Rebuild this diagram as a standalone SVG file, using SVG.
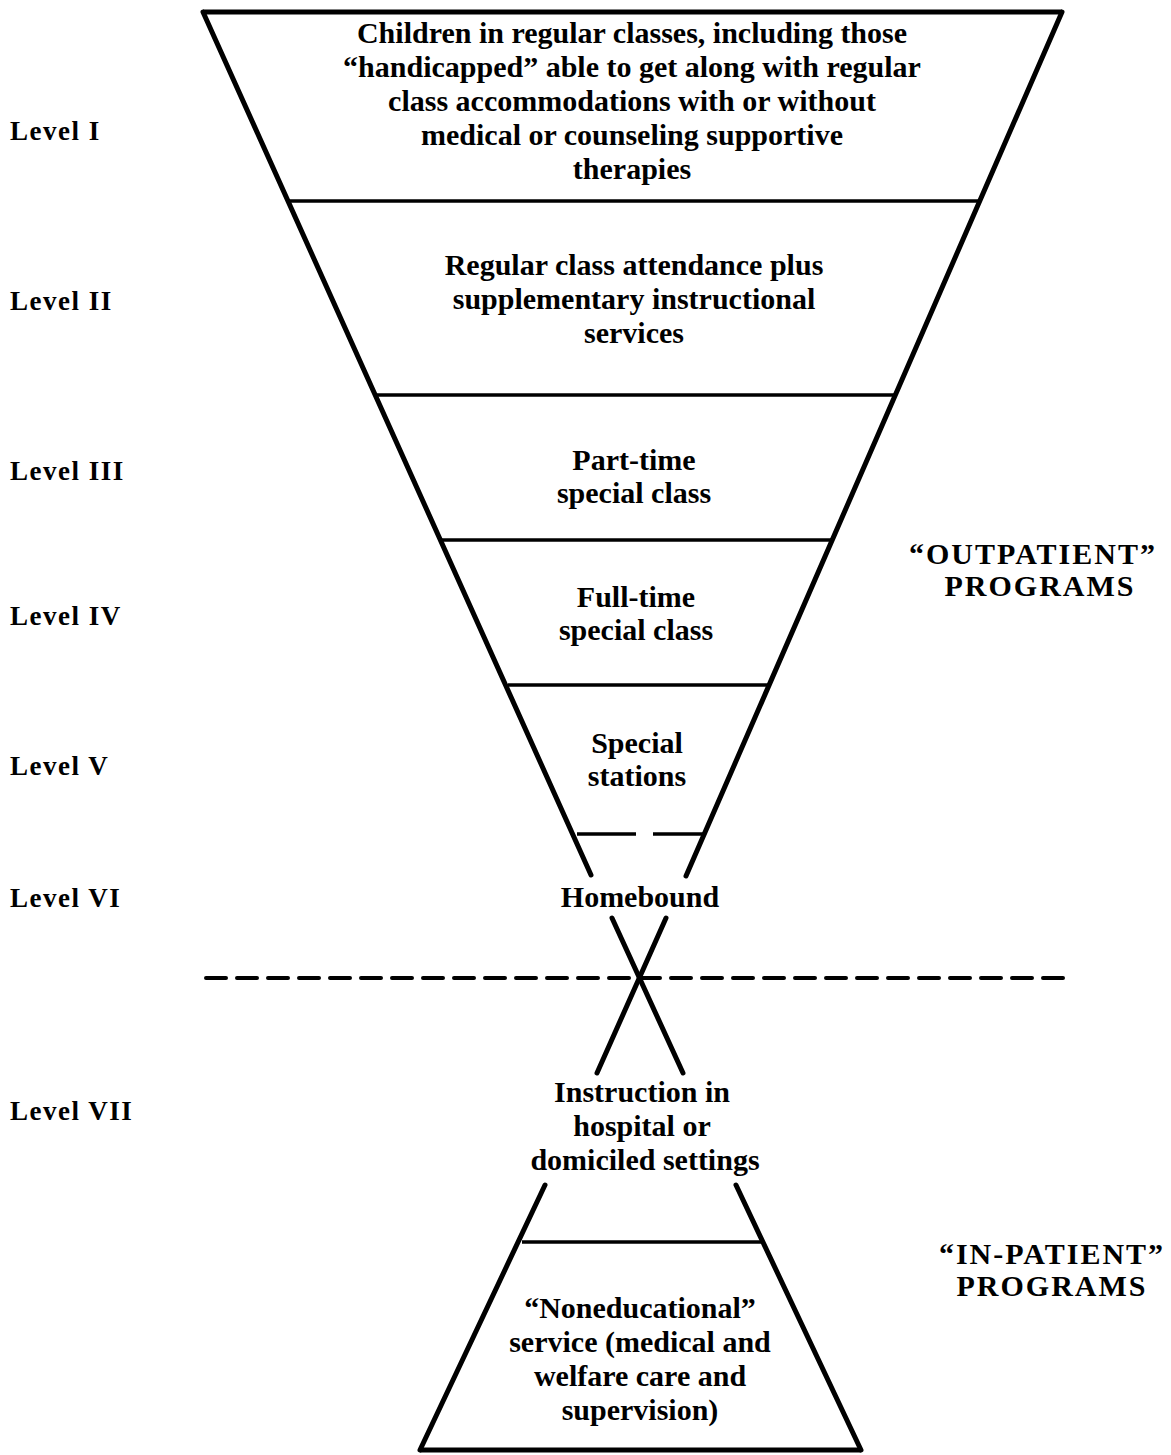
<svg xmlns="http://www.w3.org/2000/svg" width="1171" height="1455" viewBox="0 0 1171 1455">
<style>
.bg{fill:#fff}
.edge{stroke:#000;stroke-width:5;stroke-linecap:round;fill:none}
.rule{stroke:#000;stroke-width:3.5;fill:none}
.dash{stroke:#000;stroke-width:4;stroke-dasharray:20 11;fill:none;stroke-linecap:round}
text{font-family:"Liberation Serif","Times New Roman",serif;font-weight:bold;fill:#000}
.body{font-size:30px;text-anchor:middle}
.lvl{font-size:27px;letter-spacing:1.5px}
.side{font-size:30px;text-anchor:middle;letter-spacing:2px}
</style>
<rect class="bg" x="0" y="0" width="1171" height="1455"/>
<g id="connectors">
  <line class="edge" x1="203" y1="12" x2="591" y2="875"/>
  <line class="edge" x1="1062" y1="12" x2="686" y2="876"/>
  <line class="rule" x1="203" y1="12" x2="1062" y2="12" style="stroke-width:5"/>
  <line class="rule" x1="287" y1="201" x2="979" y2="201"/>
  <line class="rule" x1="375" y1="395" x2="897" y2="395"/>
  <line class="rule" x1="441" y1="540" x2="831" y2="540"/>
  <line class="rule" x1="508" y1="685" x2="768" y2="685"/>
  <line class="rule" x1="577" y1="834" x2="636" y2="834"/>
  <line class="rule" x1="653" y1="834" x2="704" y2="834"/>
  <line class="edge" x1="612" y1="918" x2="683" y2="1073"/>
  <line class="edge" x1="666" y1="918" x2="597" y2="1073"/>
  <line class="dash" x1="206" y1="978" x2="1068" y2="978"/>
  <line class="edge" x1="545" y1="1185" x2="420" y2="1450"/>
  <line class="edge" x1="736" y1="1185" x2="861" y2="1450"/>
  <line class="rule" x1="522" y1="1242" x2="761" y2="1242"/>
  <line class="rule" x1="420" y1="1450" x2="861" y2="1450" style="stroke-width:5"/>
</g>
<g id="level1">
  <text class="body" x="632" y="43">Children in regular classes, including those</text>
  <text class="body" x="632" y="77">“handicapped” able to get along with regular</text>
  <text class="body" x="632" y="111">class accommodations with or without</text>
  <text class="body" x="632" y="145">medical or counseling supportive</text>
  <text class="body" x="632" y="179">therapies</text>
</g>
<g id="level2">
  <text class="body" x="634" y="275">Regular class attendance plus</text>
  <text class="body" x="634" y="309">supplementary instructional</text>
  <text class="body" x="634" y="343">services</text>
</g>
<g id="level3">
  <text class="body" x="634" y="470">Part-time</text>
  <text class="body" x="634" y="503">special class</text>
</g>
<g id="level4">
  <text class="body" x="636" y="607">Full-time</text>
  <text class="body" x="636" y="640">special class</text>
</g>
<g id="level5">
  <text class="body" x="637" y="753">Special</text>
  <text class="body" x="637" y="786">stations</text>
</g>
<g id="level6">
  <text class="body" x="640" y="907">Homebound</text>
</g>
<g id="level7">
  <text class="body" x="642" y="1102">Instruction in</text>
  <text class="body" x="642" y="1136">hospital or</text>
  <text class="body" x="645" y="1170">domiciled settings</text>
</g>
<g id="noneducational">
  <text class="body" x="640" y="1318">“Noneducational”</text>
  <text class="body" x="640" y="1352">service (medical and</text>
  <text class="body" x="640" y="1386">welfare care and</text>
  <text class="body" x="640" y="1420">supervision)</text>
</g>
<g id="level-labels">
  <text class="lvl" x="10" y="140">Level I</text>
  <text class="lvl" x="10" y="310">Level II</text>
  <text class="lvl" x="10" y="480">Level III</text>
  <text class="lvl" x="10" y="625">Level IV</text>
  <text class="lvl" x="10" y="775">Level V</text>
  <text class="lvl" x="10" y="907">Level VI</text>
  <text class="lvl" x="10" y="1120">Level VII</text>
</g>
<g id="outpatient">
  <text class="side" x="1033" y="564">“OUTPATIENT”</text>
  <text class="side" x="1040" y="596">PROGRAMS</text>
</g>
<g id="inpatient">
  <text class="side" x="1052" y="1264">“IN-PATIENT”</text>
  <text class="side" x="1052" y="1296">PROGRAMS</text>
</g>
</svg>
